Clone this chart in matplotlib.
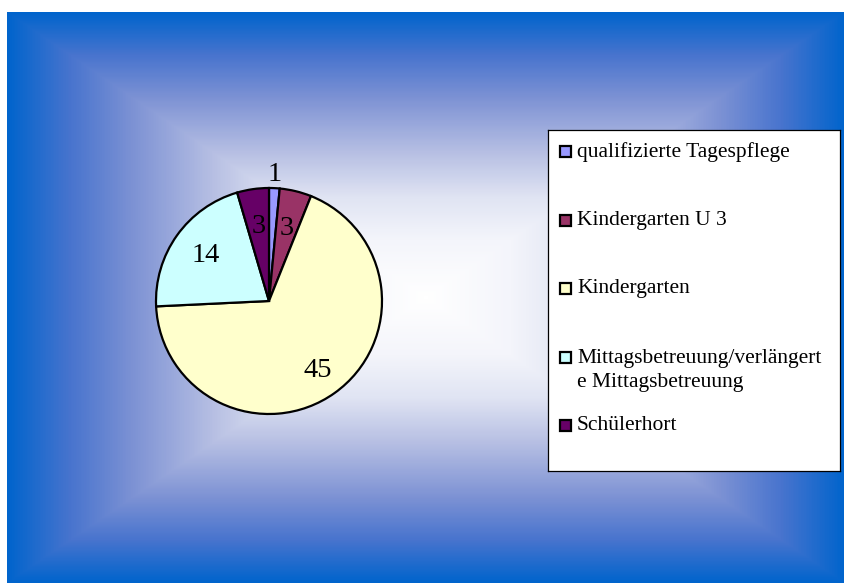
import numpy as np
import matplotlib
matplotlib.use("Agg")
import matplotlib.pyplot as plt
from matplotlib.colors import LinearSegmentedColormap
from matplotlib.patches import Rectangle

# ---------------- data ----------------
categories = ["qualifizierte Tagespflege", "Kindergarten U 3", "Kindergarten",
              "Mittagsbetreuung/verlängerte Mittagsbetreuung", "Schülerhort"]
values = [1, 3, 45, 14, 3]
colors = ["#9999FF", "#993366", "#FFFFCC", "#CCFFFF", "#660066"]

FONT = ["Liberation Serif", "DejaVu Serif"]
W, H = 845, 583
fig = plt.figure(figsize=(W / 100, H / 100), dpi=100)
fig.patch.set_facecolor("white")

# ---------------- background (rectangular gradient) ----------------
bx0, by0 = 7, 12
bw, bh = W - bx0, H - by0
bg = fig.add_axes([bx0 / W, 0, bw / W, bh / H])
yy, xx = np.mgrid[0:bh, 0:bw] + 0.5
t = np.maximum(np.abs(xx - bw / 2) / (bw / 2), np.abs(yy - bh / 2) / (bh / 2))
stops = [(0.0, (1.0, 1.0, 1.0)),
         (0.2, (244 / 255, 245 / 255, 251 / 255)),
         (0.35, (224 / 255, 228 / 255, 243 / 255)),
         (0.5, (185 / 255, 193 / 255, 228 / 255)),
         (0.7, (125 / 255, 146 / 255, 212 / 255)),
         (0.85, (72 / 255, 116 / 255, 206 / 255)),
         (1.0, (0 / 255, 100 / 255, 204 / 255))]
cmap = LinearSegmentedColormap.from_list("bg", stops)
bg.imshow(cmap(t), aspect="auto", interpolation="bilinear")
bg.axis("off")

# ---------------- pie ----------------
pcx, pcy, pr = 269, 301, 113
ax = fig.add_axes([(pcx - pr) / W, (H - pcy - pr) / H, 2 * pr / W, 2 * pr / H])
wedges, _ = ax.pie(values, colors=colors, startangle=90, counterclock=False,
                   radius=1, wedgeprops=dict(edgecolor="black", linewidth=1.6))
ax.set_xlim(-1, 1)
ax.set_ylim(-1, 1)
ax.set_aspect("auto")
ax.axis("off")

label_r = [1.12, 0.66, 0.75, 0.69, 0.67]
for wdg, v, r in zip(wedges, values, label_r):
    ang = np.deg2rad((wdg.theta1 + wdg.theta2) / 2)
    ax.text(r * np.cos(ang), r * np.sin(ang), str(v), ha="center", va="center",
            fontsize=20.5, family=FONT, color="black", clip_on=False)

# ---------------- legend ----------------
lx0, ly0, lx1, ly1 = 548, 130, 840, 471
lax = fig.add_axes([lx0 / W, (H - ly1) / H, (lx1 - lx0) / W, (ly1 - ly0) / H])
lax.set_xlim(0, lx1 - lx0)
lax.set_ylim(ly1 - ly0, 0)
lax.set_facecolor("white")
lax.set_xticks([])
lax.set_yticks([])
for s in lax.spines.values():
    s.set_linewidth(0.9)
    s.set_color("black")

def wrap(label, width=27):
    return [label[i:i + width] for i in range(0, len(label), width)]

entry_y = [22, 91, 159, 228, 296]
for lab, col, y in zip(categories, colors, entry_y):
    lax.add_patch(Rectangle((12.5, y - 6), 11, 11, facecolor=col,
                            edgecolor="black", linewidth=1.6))
    for k, line in enumerate(wrap(lab)):
        lax.text(29, y + k * 25, line, ha="left", va="center",
                 fontsize=15.5, family=FONT, color="black")

fig.savefig("out.png", dpi=100)
